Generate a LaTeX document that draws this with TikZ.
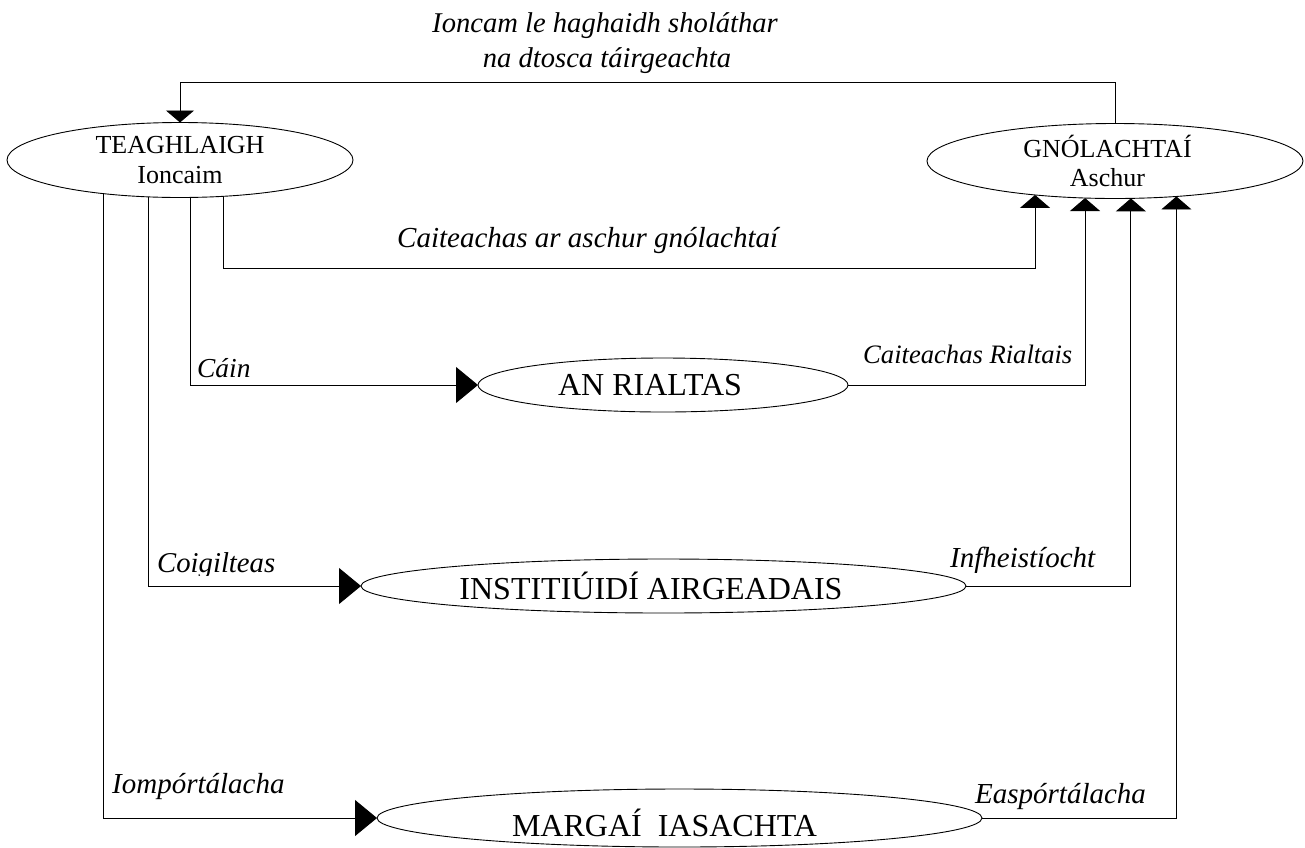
\documentclass[tikz,border=0pt]{standalone}
\usepackage{fontspec}
\setmainfont{Liberation Serif}
\usetikzlibrary{arrows.meta,shapes.geometric,backgrounds}
\begin{document}
\begin{tikzpicture}[x=1pt,y=-1pt,
  box/.style={ellipse,draw,line width=0.9pt,fill=white,inner sep=-8pt,outer sep=0pt},
  small/.style={font=\fontsize{26}{29.5}\selectfont,align=center},
  big/.style={font=\fontsize{32}{36}\selectfont},
  conn/.style={line width=0.9pt},
  uparr/.style={conn,-{Triangle[length=13pt,width=30pt]}},
  rtarr/.style={conn,-{Triangle[length=22pt,width=36pt]}},
  dnarr/.style={conn,-{Triangle[length=12pt,width=28pt]}},
  lab/.style={font=\fontsize{29}{34}\selectfont\itshape,inner sep=0pt,anchor=base west},
]
\useasboundingbox (0,0) rectangle (1305,847);

% ellipses
\node[box,small,minimum width=346pt,minimum height=75pt] (T) at (180,160) {TEAGHLAIGH\\Ioncaim};
\node[box,small,minimum width=376pt,minimum height=75pt] (G) at (1115,161) {GNÓLACHTAÍ\hspace*{15pt}\\Aschur\hspace*{15pt}};
\node[box,big,minimum width=370pt,minimum height=54pt] (R) at (663,385) {AN RIALTAS\hspace*{26pt}};
\node[box,big,minimum width=605pt,minimum height=54pt] (I) at (663.5,586) {INSTITIÚIDÍ AIRGEADAIS\hspace*{25pt}};
\node[box,big,minimum width=605pt,minimum height=58pt] (M) at (679.5,818) {\raisebox{-5pt}[\height][\depth]{MARGAÍ\ \ IASACHTA}\hspace*{30pt}};

% labels
\node[lab,anchor=base,font=\fontsize{28.6}{35}\selectfont\itshape] (title1) at (605,32) {Ioncam le haghaidh sholáthar};
\node[lab,anchor=base,font=\fontsize{28.6}{35}\selectfont\itshape] (title2) at (607,67) {na dtosca táirgeachta};
\node[lab] (l1) at (397,247) {Caiteachas ar aschur gnólachtaí};
\node[lab,font=\fontsize{27.4}{32}\selectfont\itshape] (l2) at (197,377) {Cáin};
\node[lab,font=\fontsize{26.6}{32}\selectfont\itshape] (l3) at (863,363) {Caiteachas Rialtais};
\begin{scope}
  \clip (140,530) rectangle (300,575);
  \node[lab,font=\fontsize{28.7}{34}\selectfont\itshape] (l4) at (157,572) {Coigilteas};
\end{scope}
\begin{scope}
  \clip (930,530) rectangle (1110,572);
  \node[lab] (l5) at (950,567) {Infheistíocht};
\end{scope}
\node[lab] (l6) at (112,793) {Iompórtálacha};
\node[lab] (l7) at (975,803) {Easpórtálacha};

% helper coordinates
\coordinate (t1) at ([xshift=-77pt]T.center);
\coordinate (t2) at ([xshift=-32pt]T.center);
\coordinate (t3) at ([xshift=10pt]T.center);
\coordinate (t4) at ([xshift=43pt]T.center);
\coordinate (lane) at (0,268);
\coordinate (top) at (0,82);

% connectors
\begin{scope}[on background layer]
  \draw[dnarr] (G.north) -- (G.north |- top) -| (T.north);
  \draw[uparr] (t4) -- (t4 |- lane) -| (G.203);
  \draw[rtarr] (t3) |- (R.west);
  \draw[rtarr] (t2) |- (I.west);
  \draw[rtarr] (t1) |- (M.west);
  \draw[uparr] (R.east) -| (G.231);
  \draw[uparr] (I.east) -| (G.293.2);
  \draw[uparr] (M.east) -| (G.330.7);
\end{scope}
\end{tikzpicture}
\end{document}
